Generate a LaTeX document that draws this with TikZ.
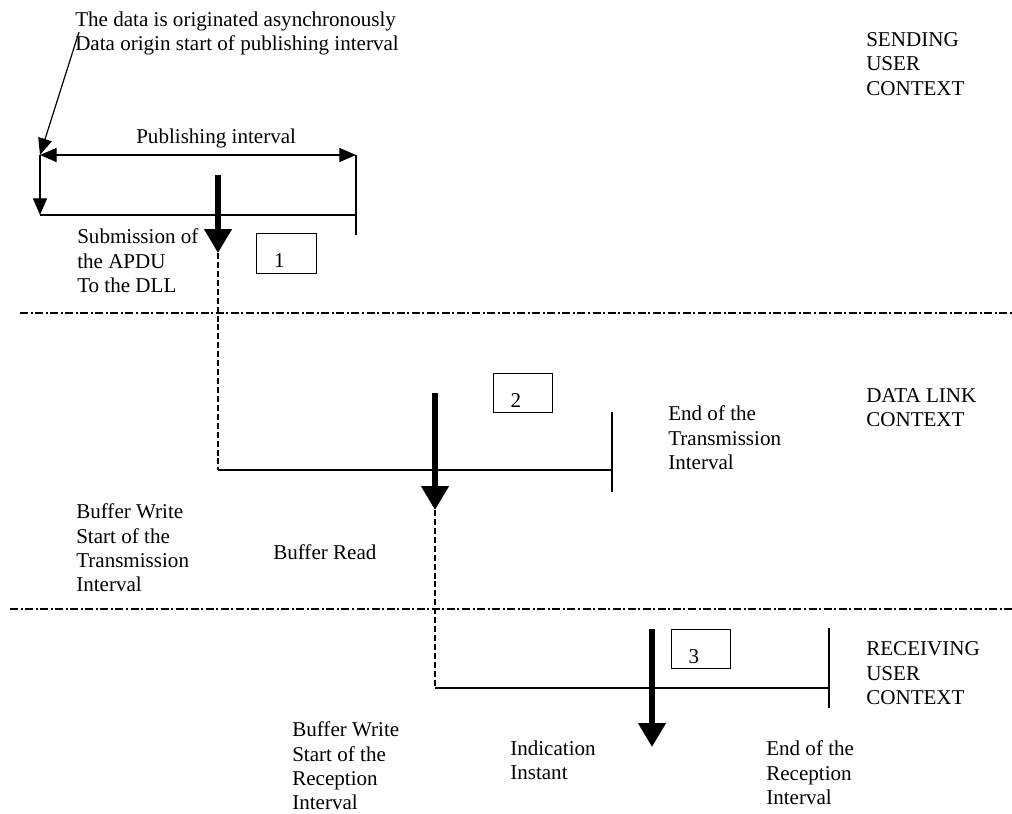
\documentclass[tikz,border=0pt]{standalone}
\usepackage{fontspec}
\setmainfont{Liberation Serif}
\usetikzlibrary{arrows.meta}
\tikzset{
  lbl/.style={inner sep=0pt, align=left, anchor=north west, font=\fontsize{15.8pt}{18.3pt}\selectfont},
  lbl1/.style={inner sep=0pt, anchor=base west, font=\fontsize{15.8pt}{18.3pt}\selectfont},
  numbox/.style={draw, line width=0.8pt, inner sep=0pt, minimum width=44.5pt, minimum height=29.5pt,
     text height=21.5pt, text depth=0pt, font=\fontsize{15.8pt}{18.3pt}\selectfont},
  thinline/.style={line width=0.9pt},
  smallarrow/.style={line width=0.9pt, -{Triangle[length=12.5pt,width=10.5pt]}},
  dblarrow/.style={line width=0.9pt, {Triangle[length=12.5pt,width=10.5pt]}-{Triangle[length=12.5pt,width=10.5pt]}},
  bigarrow/.style={line width=4.1pt, -{Triangle[length=18pt,width=20pt]}},
  dashline/.style={line width=0.9pt, dash pattern=on 4.5pt off 2.2pt},
  sepline/.style={line width=0.9pt, dash pattern=on 6pt off 1.9pt on 1.5pt off 1.9pt},
}
\begin{document}
\begin{tikzpicture}[x=0.75pt, y=-0.75pt]
\useasboundingbox (0,0) rectangle (1012,813);

% coordinates
\coordinate (noteS) at (79,32);
\coordinate (pubL) at (40,155);
\coordinate (pubR) at (356,155);
\coordinate (leftB) at (40,215);
\coordinate (pubRB) at (356,235);
\coordinate (a1top) at (218,175);
\coordinate (a1tip) at (218,253);
\coordinate (c1) at (218,470);
\coordinate (txR) at (612,470);
\coordinate (txT) at (612,412);
\coordinate (txB) at (612,492);
\coordinate (a2top) at (435,393);
\coordinate (a2tip) at (435,510);
\coordinate (c2) at (435,688);
\coordinate (rxR) at (829,688);
\coordinate (rxT) at (829,628);
\coordinate (rxB) at (829,708);
\coordinate (a3top) at (652,629);
\coordinate (a3tip) at (652,747);
\coordinate (sep1L) at (20,313);
\coordinate (sep1R) at (1012,313);
\coordinate (sep2L) at (10,609);
\coordinate (sep2R) at (1012,609);

% texts
\node[lbl] (topnote) at (75,11.6) {The data is originated asynchronously\\Data origin start of publishing interval};
\node[lbl] (sending) at (866,32) {SENDING\\USER\\CONTEXT};
\node[lbl1] (publbl) at (136,143) {Publishing interval};
\node[lbl] (submission) at (77,228.6) {Submission of\\the APDU\\To the DLL};
\node[lbl] (datalink) at (866,388) {DATA LINK\\CONTEXT};
\node[lbl] (endtx) at (668,405.6) {End of the\\Transmission\\Interval};
\node[lbl] (bufwrite1) at (76,503.6) {Buffer Write\\Start of the\\Transmission\\Interval};
\node[lbl1] (bufread) at (273,559) {Buffer Read};
\node[lbl] (receiving) at (866,641.6) {RECEIVING\\USER\\CONTEXT};
\node[lbl] (bufwrite2) at (292,721.6) {Buffer Write\\Start of the\\Reception\\Interval};
\node[lbl] (indication) at (510,740.6) {Indication\\Instant};
\node[lbl] (endrx) at (766,740.6) {End of the\\Reception\\Interval};

% numbered boxes
\node[numbox] (box1) at (286.5,253.5) {1\hspace*{10.5pt}};
\node[numbox] (box2) at (523,393) {2\hspace*{10.5pt}};
\node[numbox] (box3) at (701,649) {3\hspace*{10.5pt}};

% separators
\draw[sepline] (sep1L) -- (sep1R);
\draw[sepline] (sep2L) -- (sep2R);

% sending context
\draw[smallarrow] (noteS) -- (pubL);
\draw[dblarrow] (pubL) -- (pubR);
\draw[smallarrow] (pubL) -- (leftB);
\draw[thinline] (leftB) -- (leftB -| pubR);
\draw[thinline] (pubR) -- (pubRB);
\draw[bigarrow] (a1top) -- (a1tip);

% data link context
\draw[dashline] (a1tip) -- (c1);
\draw[thinline] (c1) -- (txR);
\draw[thinline] (txT) -- (txB);
\draw[bigarrow] (a2top) -- (a2tip);

% receiving context
\draw[dashline] (a2tip) -- (c2);
\draw[thinline] (c2) -- (rxR);
\draw[thinline] (rxT) -- (rxB);
\draw[bigarrow] (a3top) -- (a3tip);
\end{tikzpicture}
\end{document}
